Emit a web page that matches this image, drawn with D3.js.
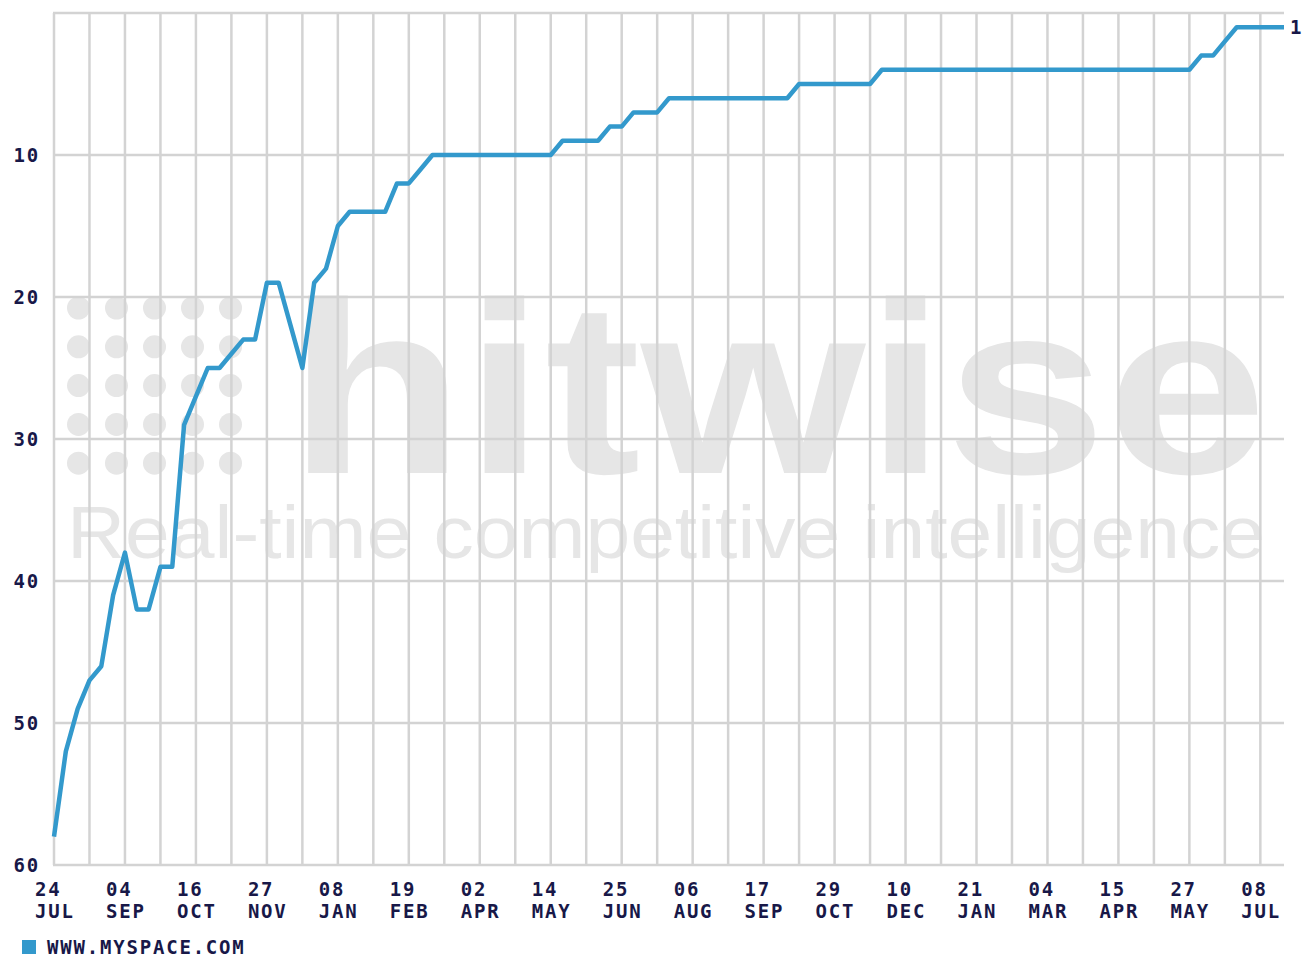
<!DOCTYPE html>
<html>
<head>
<meta charset="utf-8">
<script src="https://cdnjs.cloudflare.com/ajax/libs/d3/7.8.5/d3.min.js"></script>
<style>
  body { margin: 0; background: #fff; }
  svg { display: block; }
  .lbl { font-family: "DejaVu Sans Mono", "Liberation Mono", monospace; font-weight: bold; font-size: 19px; fill: #181848; letter-spacing: 1.8px; }
</style>
</head>
<body>
<svg id="chart" width="1303" height="958"></svg>
<script>
// weekly Hitwise rank of www.myspace.com, first week ending 24 Jul 2004
var startDate = new Date(Date.UTC(2004, 6, 24));
var rank = [58, 52, 49, 47, 46, 41, 38, 42, 42, 39,
            39, 29, 27, 25, 25, 24, 23, 23, 19, 19,
            22, 25, 19, 18, 15, 14, 14, 14, 14, 12,
            12, 11, 10, 10, 10, 10, 10, 10, 10, 10,
            10, 10, 10, 9, 9, 9, 9, 8, 8, 7,
            7, 7, 6, 6, 6, 6, 6, 6, 6, 6,
            6, 6, 6, 5, 5, 5, 5, 5, 5, 5,
            4, 4, 4, 4, 4, 4, 4, 4, 4, 4,
            4, 4, 4, 4, 4, 4, 4, 4, 4, 4,
            4, 4, 4, 4, 4, 4, 4, 3, 3, 2,
            1, 1, 1, 1, 1];
var tickDays = ["24", "04", "16", "27", "08", "19", "02", "14", "25",
                "06", "17", "29", "10", "21", "04", "15", "27", "08"];
var tickMonths = ["JUL", "SEP", "OCT", "NOV", "JAN", "FEB", "APR", "MAY", "JUN",
                  "AUG", "SEP", "OCT", "DEC", "JAN", "MAR", "APR", "MAY", "JUL"];
var yTicks = [10, 20, 30, 40, 50, 60];
var seriesName = "WWW.MYSPACE.COM";

var lineColor = "#3399cc", gridColor = "#d3d3d3", markColor = "#e6e6e6";

var svg = d3.select("#chart");

var data = rank.map(function(v, i) {
    return {date: d3.utcDay.offset(startDate, 7 * i), rank: v};
});
var endDate = data[data.length - 1].date;

var x = d3.scaleUtc().domain([startDate, endDate]).range([54, 1284]);
var y = d3.scaleLinear().domain([0, 60]).range([13, 865]);

// watermark (logo dots + two lines of text in one text node)
var wm = svg.append("g");
for (var r = 0; r < 5; r++) {
    for (var c = 0; c < 5; c++) {
        wm.append("circle")
            .attr("cx", 78.5 + c * 38)
            .attr("cy", 308 + r * 38.8)
            .attr("r", 11.5)
            .attr("fill", markColor);
    }
}
var wmText = wm.append("text")
    .style("font-family", "'Liberation Sans', Arial, sans-serif")
    .attr("fill", markColor);
wmText.append("tspan")
    .attr("x", 288).attr("y", 473)
    .attr("textLength", 979).attr("lengthAdjust", "spacingAndGlyphs")
    .style("font-weight", "bold").style("font-size", "245px")
    .text("hitwise");
wmText.append("tspan")
    .attr("x", 67).attr("y", 558)
    .attr("textLength", 1198).attr("lengthAdjust", "spacingAndGlyphs")
    .style("font-size", "74px")
    .text("Real-time competitive intelligence");

// grid
var vDates = d3.range(0, 35).map(function(i) { return d3.utcDay.offset(startDate, 21 * i); });
svg.append("g").selectAll("line")
    .data(vDates)
    .enter().append("line")
    .attr("x1", function(d) { return x(d); }).attr("x2", function(d) { return x(d); })
    .attr("y1", y(0)).attr("y2", y(60))
    .attr("stroke", gridColor).attr("stroke-width", 2.5);
svg.append("g").selectAll("line")
    .data([0].concat(yTicks))
    .enter().append("line")
    .attr("x1", x.range()[0] - 1).attr("x2", x.range()[1])
    .attr("y1", function(d) { return y(d); }).attr("y2", function(d) { return y(d); })
    .attr("stroke", gridColor).attr("stroke-width", 2.5);

// y labels
svg.append("g").selectAll("text")
    .data(yTicks)
    .enter().append("text")
    .attr("class", "lbl")
    .attr("x", 40)
    .attr("y", function(d) { return y(d); })
    .attr("dy", "0.36em")
    .attr("text-anchor", "end")
    .text(function(d) { return d; });

// x labels: day over month
var xl = svg.append("g").selectAll("text")
    .data(tickDays)
    .enter().append("text")
    .attr("class", "lbl");
xl.append("tspan")
    .attr("x", function(d, i) { return x(d3.utcDay.offset(startDate, 42 * i)) - 19; })
    .attr("y", 895.5)
    .text(function(d) { return d; });
xl.append("tspan")
    .attr("x", function(d, i) { return x(d3.utcDay.offset(startDate, 42 * i)) - 19; })
    .attr("y", 918)
    .text(function(d, i) { return tickMonths[i]; });

// series line
var line = d3.line()
    .x(function(d) { return x(d.date); })
    .y(function(d) { return y(d.rank); });
svg.append("path")
    .datum(data)
    .attr("d", line)
    .attr("fill", "none")
    .attr("stroke", lineColor)
    .attr("stroke-width", 4.5)
    .attr("stroke-linejoin", "round");

// last value label
var last = data[data.length - 1];
svg.append("text")
    .attr("class", "lbl")
    .style("letter-spacing", "0px")
    .attr("x", x(last.date) + 6)
    .attr("y", y(last.rank))
    .attr("dy", "0.36em")
    .text(last.rank);

// legend
svg.append("rect")
    .attr("x", 22).attr("y", 940).attr("width", 14).attr("height", 14)
    .attr("fill", lineColor);
svg.append("text")
    .attr("class", "lbl")
    .attr("x", 47).attr("y", 954)
    .text(seriesName);
</script>
</body>
</html>
